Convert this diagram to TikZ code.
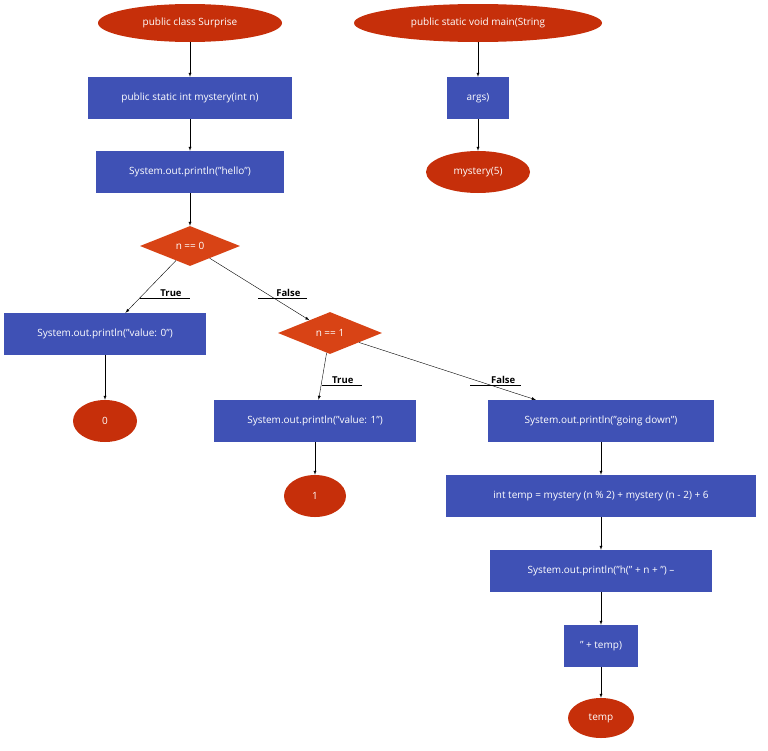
\documentclass[tikz,border=0pt]{standalone}
\usepackage{fontspec}
\setmainfont{Open Sans}
\usetikzlibrary{shapes.geometric}
\definecolor{boxblue}{HTML}{3F51B5}
\definecolor{ovalred}{HTML}{C62F0A}
\definecolor{diared}{HTML}{D84315}
\tikzstyle{Box}=[rectangle, fill=boxblue, text=white, minimum height=42pt, inner sep=0pt, font=\fontsize{10}{12}\selectfont]
\tikzstyle{Oval}=[ellipse, fill=ovalred, text=white, minimum height=40pt, inner sep=0pt, font=\fontsize{10}{12}\selectfont]
\tikzstyle{Test}=[diamond, fill=diared, text=white, inner sep=0pt, font=\fontsize{10}{12}\selectfont]
\tikzstyle{Flow}=[-latex, thin]
\tikzstyle{Tag}=[font=\fontsize{9.5}{11}\bfseries\selectfont, anchor=south, inner sep=1pt]

\begin{document}
\begin{tikzpicture}[x=1pt, y=-1pt]
    \useasboundingbox (0,0) rectangle (768,750);
    \path
    (190,23) node[Oval, minimum width=184pt, minimum height=38pt] (cls) {public class Surprise}
    (478,23) node[Oval, minimum width=248pt, minimum height=38pt] (main) {public static void main(String}
    (190,98) node[Box, minimum width=204pt] (mys) {public static int mystery(int n)}
    (478,98) node[Box, minimum width=62pt] (args) {args)}
    (478,172) node[Oval, minimum width=104pt, minimum height=42pt] (call) {mystery(5)}
    (190,172) node[Box, minimum width=188pt] (hello) {System.out.println("hello")}
    (190,246) node[Test, minimum width=100pt, minimum height=40pt, aspect=2.5] (zero) {n == 0}
    (105,334) node[Box, minimum width=202pt] (val0) {System.out.println("value: 0")}
    (105,421) node[Oval, minimum width=64pt, minimum height=42pt] (ret0) {0}
    (330,333) node[Test, minimum width=104pt, minimum height=42pt, aspect=2.5] (one) {n == 1}
    (315,421) node[Box, minimum width=202pt] (val1) {System.out.println("value: 1")}
    (315,496) node[Oval, minimum width=62pt, minimum height=42pt] (ret1) {1}
    (601,421) node[Box, minimum width=226pt] (down) {System.out.println("going down")}
    (601,496) node[Box, minimum width=310pt] (temp) {int temp = mystery (n \% 2) + mystery (n - 2) + 6}
    (601,571) node[Box, minimum width=222pt] (pr) {System.out.println("h(" + n + ") --}
    (601,646) node[Box, minimum width=74pt] (prt) {" + temp)}
    (601,718) node[Oval, minimum width=66pt, minimum height=40pt] (rett) {temp};

    \draw[Flow] (cls) -- (mys);
    \draw[Flow] (mys) -- (hello);
    \draw[Flow] (hello) -- (zero);
    \draw[Flow] (main) -- (args);
    \draw[Flow] (args) -- (call);
    \draw[Flow] (zero) -- (val0);
    \draw[Flow] (zero) -- (one);
    \draw[Flow] (val0) -- (ret0);
    \draw[Flow] (one) -- (val1);
    \draw[Flow] (one) -- (down);
    \draw[Flow] (val1) -- (ret1);
    \draw[Flow] (down) -- (temp);
    \draw[Flow] (temp) -- (pr);
    \draw[Flow] (pr) -- (prt);
    \draw[Flow] (prt) -- (rett);

    % edge labels, underlined
    \draw (140,298) -- (190,298) node[Tag, pos=0.62] (t0) {True};
    \draw (258,298) -- (307,298) node[Tag, pos=0.62] (f0) {False};
    \draw (322,385) -- (362,385) node[Tag, pos=0.52] (t1) {True};
    \draw (470,385) -- (521,385) node[Tag, pos=0.65] (f1) {False};
\end{tikzpicture}
\end{document}
